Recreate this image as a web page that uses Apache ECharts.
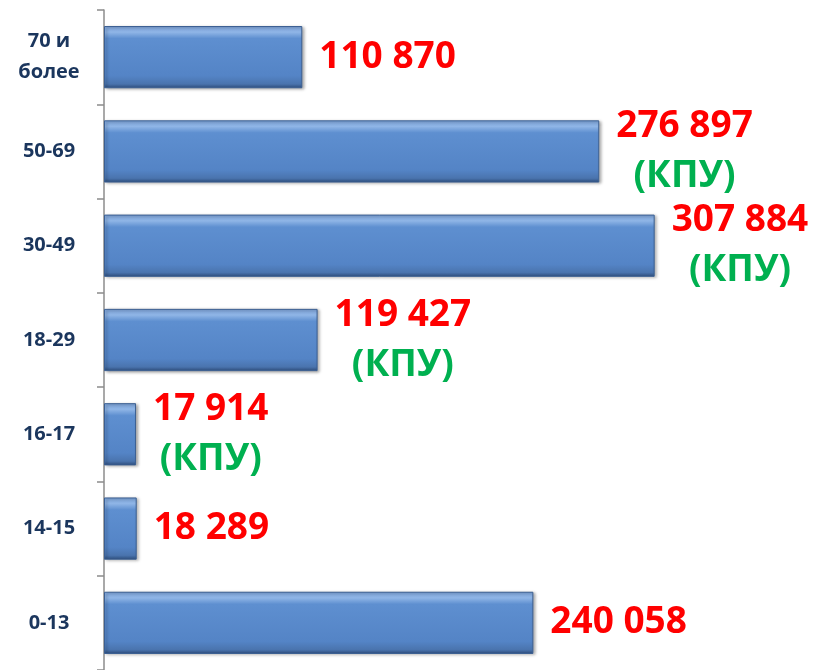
<!DOCTYPE html>
<html>
<head>
<meta charset="utf-8">
<script src="https://cdn.jsdelivr.net/npm/echarts@6/dist/echarts.min.js"></script>
<style>html,body{margin:0;padding:0;background:#fff;}#c{width:813px;height:670px;}</style>
</head>
<body>
<div id="c"></div>
<script>
var categories = ['0-13', '14-15', '16-17', '18-29', '30-49', '50-69', '70 и\nболее'];
var values = [240058, 18289, 17914, 119427, 307884, 276897, 110870];
var valueTexts = ['240 058', '18 289', '17 914', '119 427', '307 884', '276 897', '110 870'];
var notes = ['', '', '(КПУ)', '(КПУ)', '(КПУ)', '(КПУ)', ''];

var chart = echarts.init(document.getElementById('c'));
var barColor = new echarts.graphic.LinearGradient(0, 0, 0, 1, [
  {offset: 0, color: '#7fa6dc'},
  {offset: 0.1, color: '#8fb5e6'},
  {offset: 0.2, color: '#5e8fd0'},
  {offset: 0.8, color: '#5484c6'},
  {offset: 0.93, color: '#4a74ae'},
  {offset: 1, color: '#2f4f7e'}
]);
var data = values.map(function (v, i) {
  return {
    value: v,
    label: {
      formatter: notes[i] ? '{v|' + valueTexts[i] + '}\n{n|' + notes[i] + '}' : '{v|' + valueTexts[i] + '}'
    }
  };
});
chart.setOption({
  animation: false,
  backgroundColor: '#ffffff',
  grid: {left: 104, right: 83, top: 10, bottom: 0},
  xAxis: {type: 'value', min: 0, max: 350000, show: false},
  yAxis: {
    type: 'category',
    data: categories,
    axisLine: {show: true, lineStyle: {color: '#8c8c8c', width: 1.5}},
    axisTick: {show: true, length: 7, lineStyle: {color: '#8c8c8c', width: 1.5}},
    axisLabel: {
      align: 'center', margin: 55,
      fontFamily: 'Open Sans', fontWeight: 'bold', fontSize: 20,
      color: '#1b365d', lineHeight: 31
    },
    splitLine: {show: false}
  },
  series: [{
    type: 'bar',
    data: data,
    barWidth: '66%',
    itemStyle: {
      color: barColor,
      borderColor: '#3b5f92',
      borderWidth: 1,
      shadowColor: 'rgba(0,0,0,0.35)',
      shadowBlur: 3,
      shadowOffsetX: 2,
      shadowOffsetY: 1
    },
    label: {
      show: true,
      position: 'right',
      distance: 17,
      rich: {
        v: {fontFamily: 'Open Sans', fontWeight: 'bold', fontSize: 37, color: '#ff0000', lineHeight: 50, align: 'center'},
        n: {fontFamily: 'Open Sans', fontWeight: 'bold', fontSize: 37, color: '#00b050', lineHeight: 50, align: 'center'}
      }
    }
  }]
});
</script>
</body>
</html>
